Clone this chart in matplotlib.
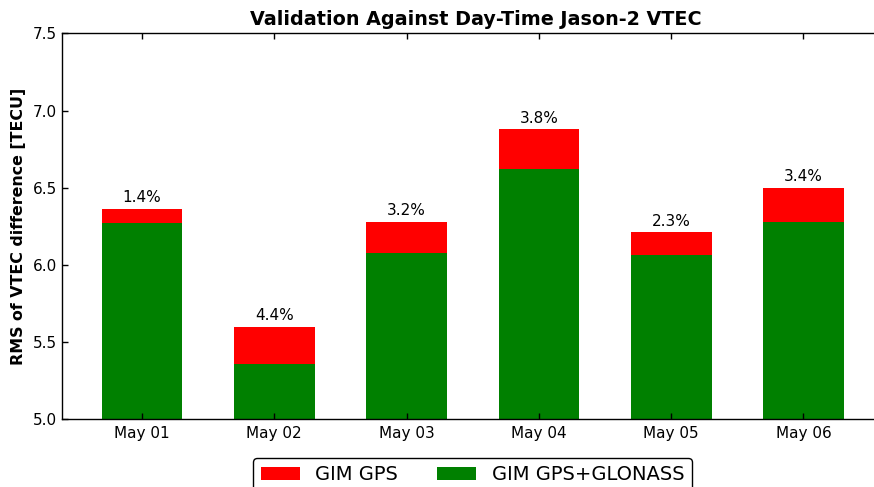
import matplotlib
matplotlib.use("Agg")
import matplotlib.pyplot as plt
import numpy as np

days = ["May 01", "May 02", "May 03", "May 04", "May 05", "May 06"]
rms_gps = [6.363, 5.600, 6.279, 6.880, 6.210, 6.500]
rms_gps_glonass = [6.272, 5.355, 6.076, 6.618, 6.067, 6.280]

plt.rcParams["font.family"] = "DejaVu Sans"
plt.rcParams["xtick.direction"] = "in"
plt.rcParams["ytick.direction"] = "in"

W, H, DPI = 874, 487, 100
fig = plt.figure(figsize=(W / DPI, H / DPI), dpi=DPI, facecolor="white")

# axes box in pixel terms (right side runs past the canvas)
ax_left, ax_right = 62.3, 890.0
ax_top, ax_bottom = 33.3, 419.3
ax = fig.add_axes([ax_left / W, 1 - ax_bottom / H,
                   (ax_right - ax_left) / W, (ax_bottom - ax_top) / H])

x = np.arange(len(days))
width = 0.61
ax.bar(x, rms_gps, width, color="#ff0000", linewidth=0, label="GIM GPS")
ax.bar(x, rms_gps_glonass, width, color="#008000", linewidth=0,
       label="GIM GPS+GLONASS")

for xi, a, b in zip(x, rms_gps, rms_gps_glonass):
    pct = (a - b) / a * 100
    ax.annotate(f"{pct:.1f}%", (xi, a), xytext=(0, 2.5),
                textcoords="offset points", ha="center", va="bottom",
                fontsize=11, color="black")

ax.set_ylim(5.0, 7.5)
ax.set_xlim(-0.602, 5.654)
ax.set_yticks([5.0, 5.5, 6.0, 6.5, 7.0, 7.5])
ax.set_yticklabels(["5.0", "5.5", "6.0", "6.5", "7.0", "7.5"])
ax.set_xticks(x)
ax.set_xticklabels(days)
ax.tick_params(axis="both", labelsize=11, length=4, width=1, pad=5,
               top=True, right=False)
ax.tick_params(axis="y", pad=4)
ax.spines["right"].set_visible(False)
for s in ax.spines.values():
    s.set_linewidth(1.0)

ax.set_title("Validation Against Day-Time Jason-2 VTEC", fontsize=13.8,
             fontweight="bold", pad=6)
ax.set_ylabel("RMS of VTEC difference [TECU]", fontsize=11.4,
              fontweight="bold", labelpad=5)

fig.legend(loc="upper center", bbox_to_anchor=(472.5 / W, 1 - 457.7 / H),
           ncol=2, fontsize=14, frameon=True, fancybox=True,
           edgecolor="black", handlelength=2.0, handleheight=0.7,
           columnspacing=2.0, handletextpad=0.8, borderpad=0.4,
           borderaxespad=0.0, framealpha=1.0)

fig.savefig("out.png", dpi=DPI, facecolor="white")
